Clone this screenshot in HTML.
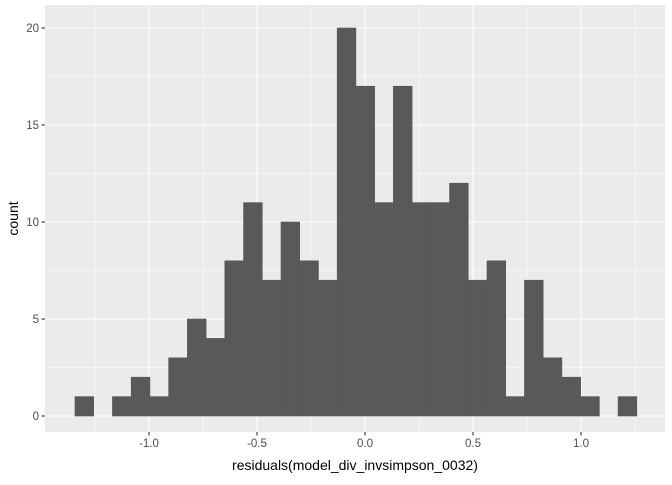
<!DOCTYPE html>
<html><head><meta charset="utf-8"><style>
body{margin:0;background:#fff;font-family:"Liberation Sans",sans-serif}
</style></head><body>
<svg id="chart" width="672" height="480" xmlns="http://www.w3.org/2000/svg"></svg>
<script>
const binCounts=[1,0,1,2,1,3,5,4,8,11,7,10,8,7,20,17,11,17,11,11,12,7,8,1,7,3,2,1,0,1];
const binStart=-1.3426;
const binWidth=0.0867;
const xTicks=[-1.0,-0.5,0.0,0.5,1.0];
const xTickLabels=["-1.0","-0.5","0.0","0.5","1.0"];
const yTicks=[0,5,10,15,20];
const yTickLabels=["0","5","10","15","20"];

const P={l:45,r:665,t:5,b:432};
const xMin=-1.4815,xMax=1.3889,yMin=-0.8247,yMax=21.186;
const sx=v=>P.l+(v-xMin)/(xMax-xMin)*(P.r-P.l);
const sy=v=>P.b-(v-yMin)/(yMax-yMin)*(P.b-P.t);
const svg=document.getElementById('chart');
const NS="http://www.w3.org/2000/svg";
function mk(tag,attrs,parent){const e=document.createElementNS(NS,tag);for(const k in attrs)e.setAttribute(k,attrs[k]);(parent||svg).appendChild(e);return e;}

const bg=mk('rect',{x:P.l,y:P.t,width:P.r-P.l,height:P.b-P.t,fill:'#EBEBEB'});



for(let i=0;i<xTicks.length+1;i++){
  const v=xTicks[0]-0.25+i*0.5;
  if(sx(v)>P.l&&sx(v)<P.r){const l=mk('line',{x1:sx(v),x2:sx(v),y1:P.t,y2:P.b,stroke:'#fff','stroke-width':0.55});
  
  }
}
for(let i=0;i<yTicks.length;i++){
  const v=yTicks[i]+2.5;
  if(sy(v)>P.t){const l=mk('line',{x1:P.l,x2:P.r,y1:sy(v),y2:sy(v),stroke:'#fff','stroke-width':0.55});
  
  }
}
xTicks.forEach((v,i)=>{
  const l=mk('line',{x1:sx(v),x2:sx(v),y1:P.t,y2:P.b,stroke:'#fff','stroke-width':1.1});
  
  
  const t=mk('line',{x1:sx(v),x2:sx(v),y1:P.b,y2:P.b+3.5,stroke:'#333','stroke-width':1.1});
  
  
  const tx=mk('text',{x:sx(v),y:P.b+15,'text-anchor':'middle','font-size':'11.5px',fill:'#4D4D4D'});
  tx.textContent=xTickLabels[i];
  
  
});
yTicks.forEach((v,i)=>{
  const l=mk('line',{x1:P.l,x2:P.r,y1:sy(v),y2:sy(v),stroke:'#fff','stroke-width':1.1});
  
  
  const t=mk('line',{x1:P.l-3.5,x2:P.l,y1:sy(v),y2:sy(v),stroke:'#333','stroke-width':1.1});
  
  
  const tx=mk('text',{x:P.l-6,y:sy(v)+4,'text-anchor':'end','font-size':'11.5px',fill:'#4D4D4D'});
  tx.textContent=yTickLabels[i];
  
  
});
binCounts.forEach((c,i)=>{
  if(c<=0)return;
  const x0=sx(binStart+i*binWidth),x1=sx(binStart+(i+1)*binWidth);
  const r=mk('rect',{x:x0,y:sy(c),width:x1-x0,height:sy(0)-sy(c),fill:'#595959',stroke:'#595959','stroke-width':0.6});
  
  
});
const xt=mk('text',{x:(P.l+P.r)/2,y:470,'text-anchor':'middle','font-size':'14px',fill:'#000'});
xt.textContent='residuals(model_div_invsimpson_0032)';


const yt=mk('text',{x:0,y:0,'text-anchor':'middle','font-size':'14px',fill:'#000',transform:`translate(18,${(P.t+P.b)/2}) rotate(-90)`});
yt.textContent='count';


</script>
</body></html>
